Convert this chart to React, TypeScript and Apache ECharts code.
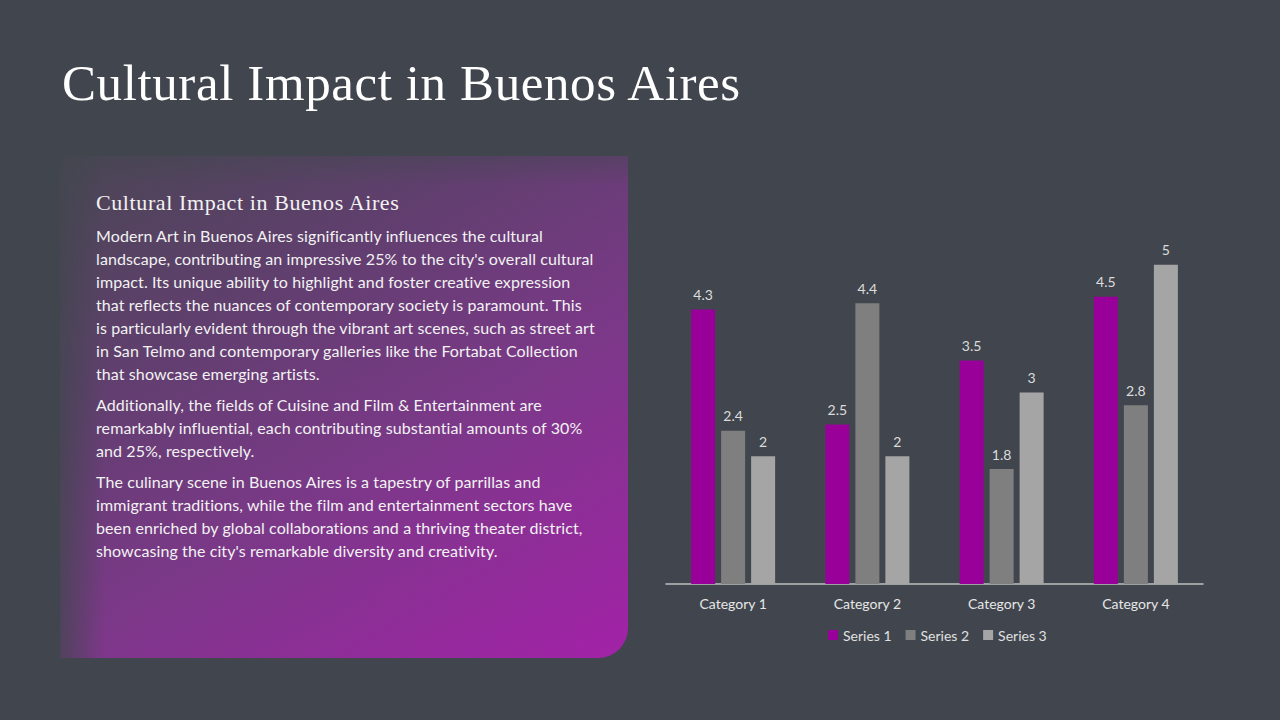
import { useEffect, useRef } from "react";
import * as echarts from "echarts";

const categories = ["Category 1", "Category 2", "Category 3", "Category 4"];
const series1 = [4.3, 2.5, 3.5, 4.5];
const series2 = [2.4, 4.4, 1.8, 2.8];
const series3 = [2, 2, 3, 5];
const seriesNames = ["Series 1", "Series 2", "Series 3"];
const seriesColors = ["#990099", "#7f7f7f", "#a5a5a5"];

const paragraphs = [
  [
    "Modern Art in Buenos Aires significantly influences the cultural",
    "landscape, contributing an impressive 25% to the city's overall cultural",
    "impact. Its unique ability to highlight and foster creative expression",
    "that reflects the nuances of contemporary society is paramount. This",
    "is particularly evident through the vibrant art scenes, such as street art",
    "in San Telmo and contemporary galleries like the Fortabat Collection",
    "that showcase emerging artists.",
  ],
  [
    "Additionally, the fields of Cuisine and Film & Entertainment are",
    "remarkably influential, each contributing substantial amounts of 30%",
    "and 25%, respectively.",
  ],
  [
    "The culinary scene in Buenos Aires is a tapestry of parrillas and",
    "immigrant traditions, while the film and entertainment sectors have",
    "been enriched by global collaborations and a thriving theater district,",
    "showcasing the city's remarkable diversity and creativity.",
  ],
];

const BG = "#41464e";
const SANS = "Lato, 'Open Sans', sans-serif";
const SERIF = "'Liberation Serif', 'DejaVu Serif', serif";

function BarChart() {
  const ref = useRef<HTMLDivElement>(null);

  useEffect(() => {
    if (!ref.current) return;
    const chart = echarts.init(ref.current, undefined, { renderer: "svg" });
    const values = [series1, series2, series3];

    chart.setOption({
      animation: false,
      textStyle: { fontFamily: SANS },
      grid: { left: 26, right: 77, top: 41, bottom: 96 },
      legend: {
        left: 183,
        top: 463,
        itemWidth: 10,
        itemHeight: 10,
        itemGap: 14,
        icon: "rect",
        textStyle: { color: "#e0e0e0", fontSize: 14, fontFamily: SANS },
        data: seriesNames,
      },
      xAxis: {
        type: "category",
        data: categories,
        axisLine: { lineStyle: { color: "#bfbfbf", width: 1.5 } },
        axisTick: { show: false },
        axisLabel: { color: "#e6e6e6", fontSize: 14, margin: 12, fontFamily: SANS },
      },
      yAxis: {
        type: "value",
        min: 0,
        max: 6,
        show: false,
        splitLine: { show: false },
      },
      series: seriesNames.map((name, i) => ({
        name,
        type: "bar",
        data: values[i],
        barWidth: 24,
        barGap: "25%",
        itemStyle: { color: seriesColors[i] },
        label: {
          show: true,
          position: "top",
          distance: 8,
          color: "#dcdcdc",
          fontSize: 14,
          fontFamily: SANS,
        },
      })),
    });

    return () => chart.dispose();
  }, []);

  return (
    <div
      ref={ref}
      style={{ position: "absolute", left: 640, top: 160, width: 640, height: 520 }}
    />
  );
}

export default function App() {
  return (
    <div
      style={{
        position: "absolute",
        left: 0,
        top: 0,
        width: 1280,
        height: 720,
        overflow: "hidden",
        background: BG,
      }}
    >
      <div
        style={{
          position: "absolute",
          left: 62,
          top: 58,
          fontFamily: SERIF,
          fontSize: 51,
          letterSpacing: 0.6,
          lineHeight: 1,
          color: "#ffffff",
          whiteSpace: "nowrap",
        }}
      >
        Cultural Impact in Buenos Aires
      </div>

      {/* gradient panel */}
      <div
        style={{
          position: "absolute",
          left: 60,
          top: 156,
          width: 568,
          height: 502,
          borderRadius: "0 0 30px 0",
          background: "linear-gradient(150deg, #4a4654 0%, #603f6e 30%, #7c3889 60%, #a322a8 100%)",
          overflow: "hidden",
        }}
      >
        <div
          style={{
            position: "absolute",
            inset: 0,
            background: `linear-gradient(to right, rgba(65,70,78,0.75) 0px, rgba(65,70,78,0) 45px)`,
          }}
        />
        <div
          style={{
            position: "absolute",
            inset: 0,
            background: `linear-gradient(to bottom, rgba(65,70,78,0.4) 0px, rgba(65,70,78,0) 30px)`,
          }}
        />
      </div>

      <div
        style={{
          position: "absolute",
          left: 96,
          top: 192,
          fontFamily: SERIF,
          fontSize: 22,
          letterSpacing: 0.6,
          lineHeight: 1,
          color: "#f2f2f2",
          whiteSpace: "nowrap",
        }}
      >
        Cultural Impact in Buenos Aires
      </div>

      <div
        style={{
          position: "absolute",
          left: 96,
          top: 224,
          fontFamily: SANS,
          fontSize: 16,
          letterSpacing: 0.1,
          lineHeight: "23px",
          color: "#f2f2f2",
        }}
      >
        {paragraphs.map((lines, p) => (
          <div key={p} style={{ marginTop: p === 0 ? 0 : 8 }}>
            {lines.map((line, i) => (
              <div key={i} style={{ whiteSpace: "nowrap" }}>
                {line}
              </div>
            ))}
          </div>
        ))}
      </div>

      <BarChart />
    </div>
  );
}
